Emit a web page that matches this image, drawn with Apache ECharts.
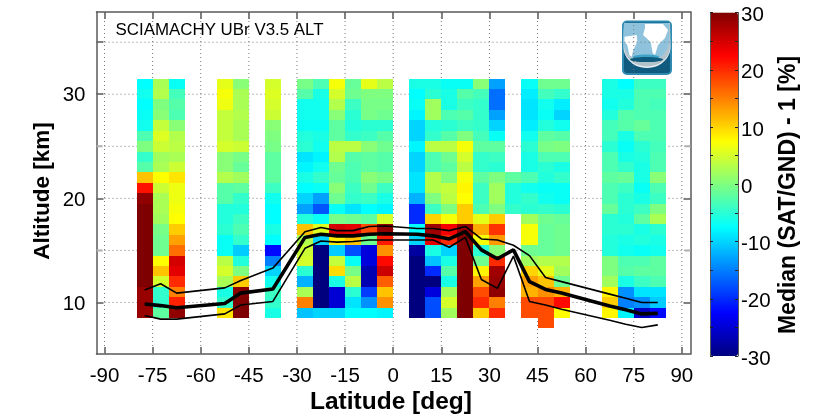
<!DOCTYPE html>
<html>
<head>
<meta charset="utf-8">
<style>html,body{margin:0;padding:0;background:#fff}#c{width:820px;height:417px}</style>
<script src="https://cdn.jsdelivr.net/npm/echarts@6/dist/echarts.min.js"></script>
</head>
<body>
<div id="c"></div>
<script>
// altitude of each row, km (top to bottom)
const altitudes = [31,30,29,28,27,26,25,24,23,22,21,20,19,18,17,16,15,14,13,12,11,10,9,8];
const latTicks = [-90,-75,-60,-45,-30,-15,0,15,30,45,60,75,90];
const altLabels = [10,20,30];
const altGrid = [10,15,20,25,30,35];
const altDarkTicks = [10,20,30,35];
const altLightTicks = [15,25];
const cellLat = 5, cellAlt = 1;

const colM775 = [-7.5,-6.5,-7.5,-7,-6.5,-3,0,-4.5,-2.5,11,21.5,29,30,30,30,30,30,30,30,30,28.5,28.5,28.5];
const colM725 = [2.5,3,0,0.5,4,5.5,4.5,2,2.5,7.5,4.5,2.5,2.5,2,-0.5,-1,-1,7.5,11,5,-4.5,-4.5,-2];
const colM675 = [-7,-3.5,-2.5,-3,0.5,3,3.5,2.5,4.5,9,6.5,6.5,7,7.5,10.5,13,16,25,24,20,15,20.5,29];
const colM525 = [6,7,6.5,4,4,4,5,0.5,0.5,3,-2.5,-2.5,-5.5,-5.5,-5,-7,-7,3.5,5,2.5,-6,-4.5,9];
const colM475 = [0.5,2.5,2.5,3,2.5,2.5,4.5,-0.5,-1.5,2,-2,-4.5,-5.5,-4,-3,-4.5,-10.5,-5.5,0,10.5,29.5,30,30];
const colM375 = [5,5.5,5,4.5,0.5,0,-0.5,-2,-2,-2,-4,-6.5,-7.5,-7.5,-6,-7.5,-22,-15,-10,-6.5,-4,-4.5,-6];
const colM275 = [-0.5,-2.5,-6.5,-6.5,-7,-5.5,-5,-9,-8,-6,-7.5,-10,-13,-5.5,11,3,4.5,5,-5,-12,2.5,15,-11];
const colM225 = [-3,-6,-6.5,-6.5,-7,-6,-6.5,-8,-6.5,-4.5,-7,-13,-17.5,-7,5.5,-10,-30,-30,-30,-30,-30,-30,-10];
const colM175 = [7,5,3,0.5,-2,-2,3.5,3,-1,-1.5,0.5,-1,-7,-0.5,25,8.5,-10.5,4,9.5,-6,-25,-25,-10];
const colM125 = [-1.5,-1,-4,-5,-5.5,-4.5,3.5,-2.5,-3,-3,-4,-4.5,-9,-1,24,11,-18,-7,-0.5,3.5,-5,-9,-7.5];
const colM75 = [6,0,-0.5,-0.5,-5,-4,0.5,-2,-2,0.5,-1,-4,-7.5,-2,18,-1,-24.5,-24.5,-27,-27,-19,-14,-7.5];
const colM25 = [3.5,0,-0.5,-1,-5,-2.5,-1,-2.5,-2.5,-0.5,-4,-6,-8,5,29,21,14,22,25.5,17,11,14,-8];
const colP75 = [-6,-7.5,-7,-8,-10,-10,-8,-10,-10,-9,-9,-12,-20,-20,-7.5,-10,-28,-30,-30,-30,-30,-30,-30];
const colP125 = [-6,-5,2,2,-5.5,-4.5,3.5,-3,-3,3,3,0,-4,10,28,24,-6,-11,-20,-30,-24.5,-18,-18];
const colP175 = [-7,-6,-6,-3,-5,-2.5,3.5,-1,-2,0,4,3.5,0,7,23,20,-10,-6,-2.5,-6,2,5,2];
const colP225 = [-7,-2.5,-4,-2.5,-4,0,7,5,3.5,7,8,7.5,10.5,10.5,29,30,30,30,30,30,30,30,30];
const colP275 = [0.5,-3.5,-4.5,-4.5,-4.5,-3.5,-2,-4.5,-4.5,-2,-4,-4,-3,6,12.5,7,-5,-1,8,13,18,20,10.5];
const colP325 = [-13,-16,-16,-13,-10,-7,-2,-4,-5,0,2,2,0,10.5,19.5,13.5,0.5,20,28,28.5,29,15,20];
const colP375 = [null,null,null,null,null,null,null,null,null,-2,-5.5,-5.5,-4.5];
const colP425 = [-7,-8.5,-9,-9,-8.5,-6.5,-5,-6,-6,-3,-6.5,-4.5,-5,2,7,7,-1,2,10,13,12,18,18];
const colP475 = [-1,-3.5,-6.5,-7,-5.5,-2,-0.5,-3,-5,-5.5,-7,-6.5,-4.5,-1,-1.5,-1.5,-1.5,3,6,11,14,18,18,18];
const colP525 = [-1,-4.5,-8.5,-10,-6.5,-2.5,0,-3,-6,-4.5,-7,-7,-5,-1.5,-1,-1,-1,3,2,-1,12,22,7.5];
const colP675 = [-6,-6,-6.5,-5.5,-3.5,-3.5,-5,-3,-3,-2,-3,-3,-1.5,-5,-5,-5.5,-5.5,0,0,2,8,10.5,8];
const colP725 = [-7.5,-6,-5.5,-2.5,-2.5,-6,-7,-6,-4.5,-1.5,-4,-5,-5,-5.5,-5,-6,-6.5,-3,-2.5,-6,-14,-15,-8];
const colP775 = [-4,-3,-3,-3,-1.5,-3,-5,-5.5,-6,-6,-7,-6,-4,-2,-6,-5.5,-7,-3,-2,-4,-9,-14,-26];
const colP825 = [-4,-3,-3.5,-3,-3,-3,-3.5,-3,-3,0.5,-3,-4,0,2.5,-5,-6,-6.5,-2,-2,-3,-9,-10.5,-22];

const cellColumns = [
  [-77.5,colM775],[-72.5,colM725],[-67.5,colM675],[-52.5,colM525],[-47.5,colM475],[-37.5,colM375],
  [-27.5,colM275],[-22.5,colM225],[-17.5,colM175],[-12.5,colM125],[-7.5,colM75],[-2.5,colM25],
  [7.5,colP75],[12.5,colP125],[17.5,colP175],[22.5,colP225],[27.5,colP275],[32.5,colP325],[37.5,colP375],
  [42.5,colP425],[47.5,colP475],[52.5,colP525],[67.5,colP675],[72.5,colP725],[77.5,colP775],[82.5,colP825]
];

// tropopause curves
const lineLat   = [-77.5,-72.5,-67.5,-52.5,-47.5,-37.5,-27.5,-22.5,-17.5,-12.5,-7.5,-2.5,7.5,12.5,17.5,22.5,27.5,32.5,37.5,42.5,47.5,52.5,67.5,72.5,77.5,82.5];
const lineUpper = [11.2,11.8,10.9,11.4,12.1,13.3,16.8,17.2,16.9,16.9,17.3,17.35,17.1,17.1,16.9,17.3,16.1,16.0,15.5,14.5,12.4,12.0,10.8,10.4,10.0,10.0];
const lineMean  = [9.85,9.7,9.5,9.9,10.9,11.3,16.25,16.55,16.4,16.4,16.55,16.6,16.55,16.4,16.1,16.8,15.05,14.2,15.05,12.0,11.25,10.9,9.65,9.3,8.9,8.95];
const lineLower = [8.75,8.4,8.4,8.9,9.75,10.1,15.2,15.9,15.8,15.85,16.0,16.0,16.0,16.0,15.3,16.25,12.2,11.35,14.45,10.1,9.75,9.35,8.3,7.9,7.6,7.85];

const cells = [];
cellColumns.forEach(([lat, col]) => col.forEach((v, i) => { if (v !== null) cells.push([lat, altitudes[i], v]); }));
const zip = (a, b) => a.map((x, i) => [x, b[i]]);

const GRAY = '#5a5a5a';
const FONT = '"Liberation Sans", Arial, sans-serif';
const jet = ['#00007f','#0000ff','#007fff','#00ffff','#7fff7f','#ffff00','#ff7f00','#ff0000','#7f0000'];
const box = {left: 96.5, top: 12, width: 594, height: 342};
const xRange = {min: -92.5, max: 92.7};
const yRange = {min: 5.05, max: 37.9};

// dotted guide lines, drawn as a series so they sit on the true axis scale
const guideLines = [];
latTicks.forEach(t => guideLines.push([t, yRange.min], [t, yRange.max], [null, null]));
altGrid.forEach(t => guideLines.push([xRange.min, t], [xRange.max, t], [null, null]));
// the paler, wider marks at 15 and 25 km
const lightTicks = [];
altLightTicks.forEach(t => {
  lightTicks.push([xRange.min, t], [xRange.min + 1.9, t], [null, null]);
  lightTicks.push([xRange.max - 1.9, t], [xRange.max, t], [null, null]);
});

function renderCell(params, api) {
  const lat = api.value(0), alt = api.value(1);
  const a = api.coord([lat - cellLat / 2, alt + cellAlt / 2]);
  const b = api.coord([lat + cellLat / 2, alt - cellAlt / 2]);
  const x = Math.round(a[0]), y = Math.round(a[1]);
  return {type: 'rect', shape: {x, y, width: Math.round(b[0]) - x, height: Math.round(b[1]) - y},
          style: {fill: api.visual('color')}};
}

function arcPoints(cx, cy, rx, ry, a0, a1, n) {
  const p = [];
  for (let i = 0; i <= n; i++) {
    const t = (a0 + (a1 - a0) * i / n) * Math.PI / 180;
    p.push([cx + rx * Math.cos(t), cy + ry * Math.sin(t)]);
  }
  return p;
}
const logo = [
  {type:'rect', shape:{x:622,y:20.5,width:50,height:54.5,r:5}, style:{fill:'#2f8ab2'}},
  {type:'rect', shape:{x:624,y:22.5,width:46,height:50.5,r:3}, style:{fill:'#0f5a7f'}},
  {type:'polygon', shape:{points:[[624,23],[670,23]].concat(arcPoints(647,47,23.5,21,0,180,24))}, style:{fill:'#e8f0f4'}},
  {type:'polygon', shape:{points:[[624,23],[670,23]].concat(arcPoints(647,47,23,19.5,0,180,24))}, style:{fill:'#b3c3cc'}},
  {type:'polygon', shape:{points:[[624,23],[669,23],[669,40]].concat(arcPoints(646,40,23,22,0,180,24))}, style:{fill:'#8fc3dd'}},
  {type:'ellipse', shape:{cx:646,cy:57,rx:13,ry:2.5}, style:{fill:'#3fa3c9'}},
  {type:'ellipse', shape:{cx:646.5,cy:59.5,rx:16.5,ry:2.6}, style:{fill:'#0f5a7f'}},
  {type:'polygon', shape:{points:[[645,24],[663,24],[668,30],[665,38],[658,45],[655,55],[652.7,53],[650.7,42],[643,35],[645,28]]}, style:{fill:'#ffffff'}},
  {type:'polygon', shape:{points:[[624.5,36.7],[636.7,35],[637.3,41.7],[633.3,50],[631.7,56.7],[629.3,55],[627.3,45],[624.5,41.7]]}, style:{fill:'#ffffff'}}
];
const nameStyle = (text, size) => ({text, fill: '#000', font: 'bold ' + size + 'px ' + FONT, align: 'center', verticalAlign: 'middle'});
const labelRich = top => ({a: {color: '#000', fontSize: 20.5, fontFamily: FONT, padding: [top, 0, 0, 0]}});

const chart = echarts.init(document.getElementById('c'), null, {renderer: 'canvas'});
chart.setOption({
  animation: false,
  backgroundColor: '#ffffff',
  textStyle: {fontFamily: FONT},
  grid: [
    {left: box.left, top: box.top, width: box.width, height: box.height, show: false, outerBoundsMode: 'none'},
    {left: 710, top: 12.5, width: 28, height: 343.5, show: false, outerBoundsMode: 'none'}
  ],
  xAxis: [
    {gridIndex: 0, type: 'value', min: xRange.min, max: xRange.max, position: 'bottom', splitLine: {show: false},
     axisLine: {onZero: false, lineStyle: {color: GRAY, width: 1.5}},
     axisTick: {inside: true, length: 7, customValues: latTicks, lineStyle: {color: GRAY, width: 1.5}},
     axisLabel: {customValues: latTicks, color: '#000', fontSize: 20.5, fontFamily: FONT, margin: 12, showMinLabel: true, showMaxLabel: true}},
    {gridIndex: 0, type: 'value', min: xRange.min, max: xRange.max, position: 'top', splitLine: {show: false},
     axisLine: {onZero: false, lineStyle: {color: GRAY, width: 1.5}},
     axisTick: {inside: true, length: 7, customValues: latTicks, lineStyle: {color: GRAY, width: 1.5}},
     axisLabel: {show: false}},
    {gridIndex: 1, type: 'value', min: 0, max: 1, show: false}
  ],
  yAxis: [
    {gridIndex: 0, type: 'value', min: yRange.min, max: yRange.max, position: 'left', splitLine: {show: false},
     axisLine: {onZero: false, lineStyle: {color: GRAY, width: 1.5}},
     axisTick: {inside: true, length: 7, customValues: altDarkTicks, lineStyle: {color: GRAY, width: 1.5}},
     axisLabel: {customValues: altLabels, margin: 11, formatter: '{a|{value}}', rich: labelRich(3)}},
    {gridIndex: 0, type: 'value', min: yRange.min, max: yRange.max, position: 'right', splitLine: {show: false},
     axisLine: {onZero: false, lineStyle: {color: GRAY, width: 1.5}},
     axisTick: {inside: true, length: 7, customValues: altDarkTicks, lineStyle: {color: GRAY, width: 1.5}},
     axisLabel: {show: false}},
    {gridIndex: 1, type: 'value', min: -30, max: 30, interval: 5, position: 'right', splitLine: {show: false}, z: 10,
     axisLine: {onZero: false, lineStyle: {color: GRAY, width: 1}},
     axisTick: {inside: true, length: 3, lineStyle: {color: '#222', width: 1}},
     axisLabel: {margin: 3, rich: labelRich(6), formatter: v => (v % 10 === 0 ? '{a|' + v + '}' : '')}},
    {gridIndex: 1, type: 'value', min: -30, max: 30, interval: 5, position: 'left', splitLine: {show: false}, z: 10,
     axisLine: {onZero: false, lineStyle: {color: GRAY, width: 1}},
     axisTick: {inside: true, length: 3, lineStyle: {color: '#222', width: 1}},
     axisLabel: {show: false}}
  ],
  visualMap: {
    type: 'continuous', min: -30, max: 30, seriesIndex: 1, dimension: 2,
    left: 710, top: 12.5, itemWidth: 28, itemHeight: 343.5, text: ['', ''], calculable: false, realtime: false,
    inRange: {color: jet}, textStyle: {fontSize: 0}, padding: 0
  },
  series: [
    {name: 'guides', type: 'line', xAxisIndex: 0, yAxisIndex: 0, data: guideLines, showSymbol: false, silent: true, z: 1,
     connectNulls: false, lineStyle: {color: '#777', width: 1, type: [1, 3]}},
    {name: 'median', type: 'custom', xAxisIndex: 0, yAxisIndex: 0, data: cells, renderItem: renderCell,
     encode: {x: 0, y: 1}, z: 2, clip: true},
    {name: 'upper', type: 'line', xAxisIndex: 0, yAxisIndex: 0, data: zip(lineLat, lineUpper), showSymbol: false, z: 3,
     lineStyle: {color: '#000', width: 1.6}},
    {name: 'mean', type: 'line', xAxisIndex: 0, yAxisIndex: 0, data: zip(lineLat, lineMean), showSymbol: false, z: 3,
     lineStyle: {color: '#000', width: 3.6}},
    {name: 'lower', type: 'line', xAxisIndex: 0, yAxisIndex: 0, data: zip(lineLat, lineLower), showSymbol: false, z: 3,
     lineStyle: {color: '#000', width: 1.6}},
    {name: 'lightTicks', type: 'line', xAxisIndex: 0, yAxisIndex: 0, data: lightTicks, showSymbol: false, silent: true, z: 1,
     connectNulls: false, lineStyle: {color: '#b0b0b0', width: 2}}
  ],
  graphic: [
    {type: 'text', x: 115.5, y: 30.7, z: 20, style: {text: 'SCIAMACHY UBr V3.5 ALT', fill: '#000', font: '16.9px ' + FONT, verticalAlign: 'middle'}},
    {type: 'text', x: 391, y: 402, z: 20, style: nameStyle('Latitude [deg]', 24.5)},
    {type: 'text', x: 43, y: 191, rotation: Math.PI / 2, z: 20, style: nameStyle('Altitude [km]', 22.5)},
    {type: 'text', x: 789, y: 195, rotation: Math.PI / 2, z: 20, style: nameStyle('Median (SAT/GND) - 1 [%]', 23)},
    {type: 'group', z: 20, children: logo}
  ]
});
</script>
</body>
</html>
